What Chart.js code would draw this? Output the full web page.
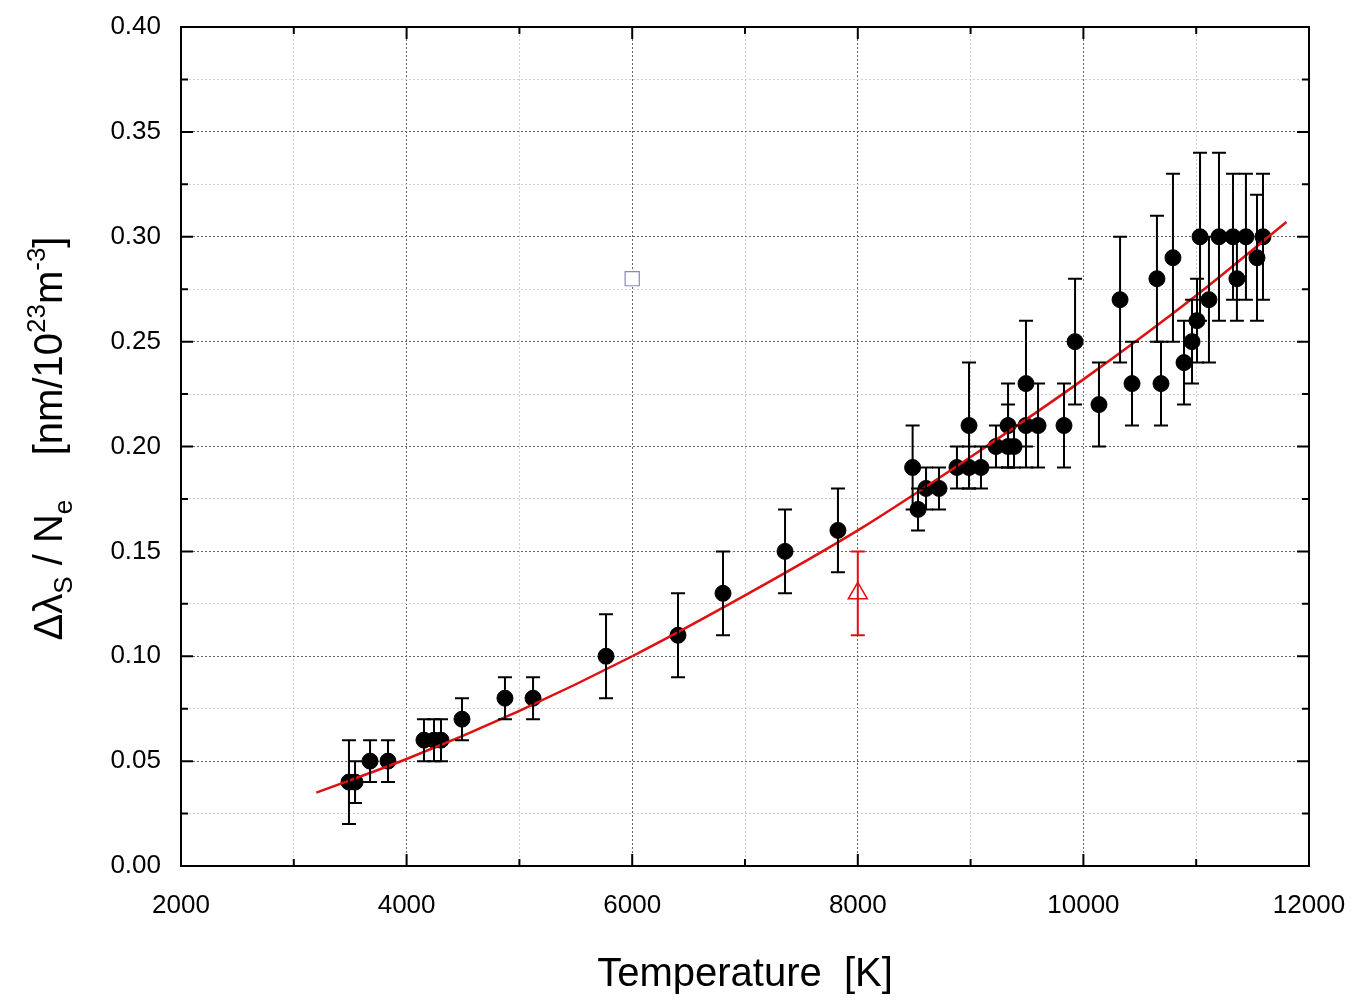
<!DOCTYPE html>
<html>
<head>
<meta charset="utf-8">
<script src="https://cdn.jsdelivr.net/npm/chart.js@4.4.0/dist/chart.umd.min.js"></script>
<style>
  body { margin: 0; background: #fff; }
  #wrap { width: 1370px; height: 1003px; }
</style>
</head>
<body>
<div id="wrap"><canvas id="chart1"></canvas></div>
<script>
// measured points: temperature [K], shift / Ne, error low, error high
const temps = [3489, 3543, 3676, 3835, 4154, 4243, 4305, 4491, 4872, 5121, 5768, 6406, 6805, 7355, 7824,
  8486, 8534, 8605, 8720, 8879, 8986, 8986, 9092, 9225, 9332, 9385, 9332, 9491, 9491, 9598, 9828,
  9926, 10138, 10325, 10431, 10652, 10688, 10794, 10892, 10963, 11007, 11034, 11113, 11202, 11326,
  11361, 11441, 11539, 11592]
const shifts = [0.04, 0.04, 0.05, 0.05, 0.06, 0.06, 0.06, 0.07, 0.08, 0.08, 0.10, 0.11, 0.13, 0.15, 0.16,
  0.19, 0.17, 0.18, 0.18, 0.19, 0.19, 0.21, 0.19, 0.20, 0.20, 0.20, 0.21, 0.23, 0.21, 0.21, 0.21,
  0.25, 0.22, 0.27, 0.23, 0.28, 0.23, 0.29, 0.24, 0.25, 0.26, 0.30, 0.27, 0.30, 0.30,
  0.28, 0.30, 0.29, 0.30]
const errLow = [0.02, 0.03, 0.04, 0.04, 0.05, 0.05, 0.05, 0.06, 0.07, 0.07, 0.08, 0.09, 0.11, 0.13, 0.14,
  0.17, 0.16, 0.17, 0.17, 0.18, 0.18, 0.18, 0.18, 0.19, 0.19, 0.19, 0.19, 0.20, 0.19, 0.19, 0.19,
  0.22, 0.20, 0.24, 0.21, 0.25, 0.21, 0.25, 0.22, 0.23, 0.24, 0.26, 0.24, 0.26, 0.27,
  0.26, 0.27, 0.26, 0.27]
const errHigh = [0.06, 0.05, 0.06, 0.06, 0.07, 0.07, 0.07, 0.08, 0.09, 0.09, 0.12, 0.13, 0.15, 0.17, 0.18,
  0.21, 0.18, 0.19, 0.19, 0.20, 0.20, 0.24, 0.20, 0.21, 0.22, 0.21, 0.23, 0.26, 0.23, 0.23, 0.23,
  0.28, 0.24, 0.30, 0.25, 0.31, 0.25, 0.33, 0.26, 0.27, 0.28, 0.34, 0.30, 0.34, 0.33,
  0.30, 0.33, 0.32, 0.33]

// other sources
const triTemp = [8000], triShift = [0.13], triLow = [0.11], triHigh = [0.15]
const sqTemp = [6000], sqShift = [0.28]

// fitted curve
const fitTemp = [3200, 4000, 5000, 6000, 7000, 8000, 9000, 10000, 11000, 11800]
const fitShift = [0.035, 0.051, 0.074, 0.100, 0.129, 0.160, 0.195, 0.232, 0.272, 0.307]

const xTicks = [2000, 4000, 6000, 8000, 10000, 12000]
const yTicks = [0.00, 0.05, 0.10, 0.15, 0.20, 0.25, 0.30, 0.35, 0.40]

const pts = (xs, ys) => xs.map((x, i) => ({x, y: ys[i]}))
const FONT = '"Liberation Sans", Arial'

const errorBars = {
  id: 'errorBars',
  afterDatasetsDraw(chart) {
    const {ctx, scales: {x, y}} = chart
    const draw = (xs, lo, hi, color) => {
      ctx.save()
      ctx.strokeStyle = color
      ctx.lineWidth = 2
      xs.forEach((t, i) => {
        const px = x.getPixelForValue(t)
        const a = y.getPixelForValue(lo[i]), b = y.getPixelForValue(hi[i])
        ctx.beginPath()
        ctx.moveTo(px, a); ctx.lineTo(px, b)
        ctx.moveTo(px - 7, a); ctx.lineTo(px + 7, a)
        ctx.moveTo(px - 7, b); ctx.lineTo(px + 7, b)
        ctx.stroke()
      })
      ctx.restore()
    }
    draw(temps, errLow, errHigh, '#000')
    draw(triTemp, triLow, triHigh, '#e01010')
  }
}

const frame = {
  id: 'frame',
  afterDraw(chart) {
    const {ctx, chartArea: c, scales: {x, y}} = chart
    ctx.save()
    ctx.strokeStyle = '#000'
    ctx.lineWidth = 2
    ctx.strokeRect(c.left, c.top, c.right - c.left, c.bottom - c.top)
    ctx.beginPath()
    for (let v = 2000; v <= 12000; v += 1000) {
      const px = x.getPixelForValue(v), len = v % 2000 === 0 ? 12 : 7
      ctx.moveTo(px, c.bottom); ctx.lineTo(px, c.bottom - len)
      ctx.moveTo(px, c.top); ctx.lineTo(px, c.top + len)
    }
    for (let k = 0; k <= 16; k++) {
      const py = y.getPixelForValue(k * 0.025), len = k % 2 === 0 ? 12 : 7
      ctx.moveTo(c.left, py); ctx.lineTo(c.left + len, py)
      ctx.moveTo(c.right, py); ctx.lineTo(c.right - len, py)
    }
    ctx.stroke()

    // axis titles
    ctx.fillStyle = '#000'
    ctx.font = '40px ' + FONT
    ctx.textAlign = 'center'
    ctx.textBaseline = 'alphabetic'
    ctx.fillText('Temperature  [K]', (c.left + c.right) / 2, 986)

    ctx.translate(48, (c.top + c.bottom) / 2 - 8)
    ctx.rotate(-Math.PI / 2)
    const parts = [
      ['Δλ', 0, 40], ['S', 10, 26], [' / N', 0, 40], ['e', 10, 26],
      ['    [nm/10', 0, 40], ['23', -17, 26], ['m', 0, 40], ['-3', -17, 26], [']', 0, 40]
    ]
    let w = 0
    parts.forEach(([t, dy, s]) => { ctx.font = s + 'px ' + FONT; w += ctx.measureText(t).width })
    let cx = -w / 2
    ctx.textAlign = 'left'
    parts.forEach(([t, dy, s]) => {
      ctx.font = s + 'px ' + FONT
      ctx.fillText(t, cx, 14 + dy)
      cx += ctx.measureText(t).width
    })
    ctx.restore()
  }
}

new Chart(document.getElementById('chart1'), {
  type: 'scatter',
  data: {
    datasets: [
      {data: pts(fitTemp, fitShift), showLine: true, borderColor: '#e01010', borderWidth: 2.5,
       pointRadius: 0, cubicInterpolationMode: 'monotone', fill: false},
      {data: pts(temps, shifts), backgroundColor: '#000', borderColor: '#000', pointRadius: 8},
      {data: pts(triTemp, triShift), pointStyle: 'triangle', pointRadius: 11, backgroundColor: '#fff',
       borderColor: '#e01010', borderWidth: 1.5},
      {data: pts(sqTemp, sqShift), pointStyle: 'rect', pointRadius: 10, backgroundColor: '#fff',
       borderColor: '#8888bb', borderWidth: 1.2}
    ]
  },
  options: {
    responsive: true,
    maintainAspectRatio: false,
    animation: false,
    layout: {padding: {left: 80, right: 61, top: 27, bottom: 0}},
    plugins: {legend: {display: false}, tooltip: {enabled: false}},
    scales: {
      x: {
        type: 'linear', min: 2000, max: 12000,
        afterBuildTicks: s => { s.ticks = []; for (let v = 2000; v <= 12000; v += 1000) s.ticks.push({value: v}) },
        afterFit: s => { s.height = 137; s.paddingLeft = 0; s.paddingRight = 0 },
        grid: {drawTicks: false, lineWidth: 1,
               color: c => c.tick && c.tick.value % 2000 === 0 ? '#666' : '#d0d0d0'},
        border: {display: false, dash: [2, 2]},
        ticks: {padding: 24, color: '#000', font: {size: 26, family: FONT},
                callback: v => xTicks.includes(v) ? v : ''}
      },
      y: {
        type: 'linear', min: 0, max: 0.4,
        afterBuildTicks: s => { s.ticks = []; for (let k = 0; k <= 16; k++) s.ticks.push({value: +(k * 0.025).toFixed(3)}) },
        afterFit: s => { s.width = 101; s.paddingTop = 0; s.paddingBottom = 0 },
        grid: {drawTicks: false, lineWidth: 1,
               color: c => c.tick && Math.round(c.tick.value * 1000) % 50 === 0 ? '#666' : '#d0d0d0'},
        border: {display: false, dash: [2, 2]},
        ticks: {padding: 20, color: '#000', font: {size: 26, family: FONT},
                callback: v => yTicks.some(t => Math.abs(t - v) < 1e-6) ? v.toFixed(2) : ''}
      }
    }
  },
  plugins: [errorBars, frame]
})
</script>
</body>
</html>
